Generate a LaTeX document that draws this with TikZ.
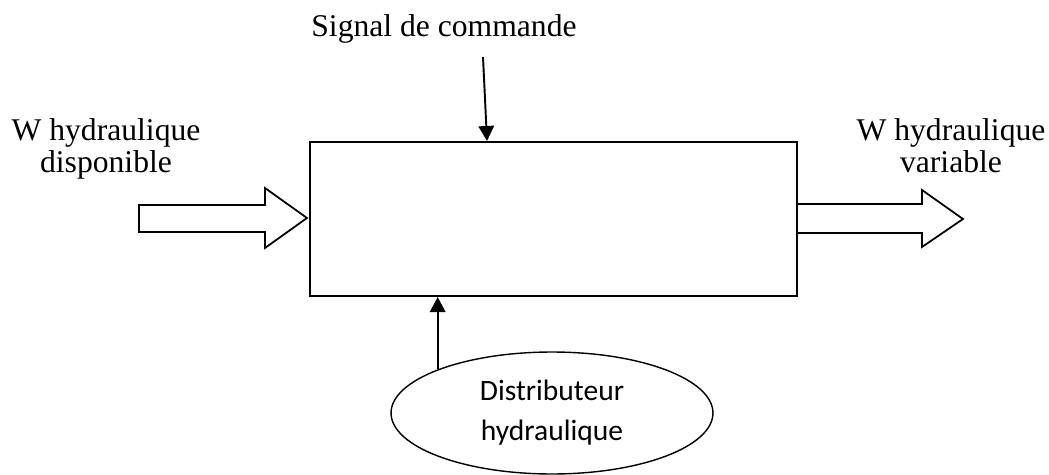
\documentclass[tikz,border=0pt]{standalone}
\usepackage{fontspec}
\setmainfont{Liberation Serif}
\newfontfamily\calib{Carlito}
\usetikzlibrary{arrows.meta,shapes.geometric}

\tikzset{
  lbl/.style={inner sep=0pt,align=center,font=\fontsize{18}{18.2}\selectfont},
  bloc/.style={draw,line width=1.2pt,minimum width=9.74cm,minimum height=3.08cm},
  source/.style={draw,ellipse,line width=0.8pt,minimum width=6.44cm,minimum height=2.44cm,
    inner sep=0pt,align=center,font=\calib\fontsize{16.8}{22.8}\selectfont},
  fleche/.style={line width=1.1pt,-{Triangle[length=3mm,width=3.1mm]}},
  grossefleche/.style={draw,line width=1pt,line join=miter,fill=white}
}

\begin{document}
\begin{tikzpicture}[x=0.02cm,y=-0.02cm]
  % Frame of the picture
  \useasboundingbox (0,0) rectangle (1049,474);

  % Main block
  \node[bloc] (box) at (553.5,219) {};

  % Labels
  \node[lbl,anchor=base] (sig) at (444,36) {Signal de commande};
  \node[lbl,anchor=north] (win) at (106,118) {W hydraulique\\disponible};
  \node[lbl,anchor=north] (wout) at (951,118) {W hydraulique\\variable};

  % Distributor
  \node[source] (dist) at (552,413) {Distributeur\\hydraulique};

  % Power in and out
  \coordinate (inL) at (139,205);
  \coordinate (outR) at (797,204);
  \draw[grossefleche] (inL) -- ++(126,0) -- ++(0,-17) -- ++(42,30)
    -- ++(-42,30) -- ++(0,-16) -- ++(-126,0) -- cycle;
  \draw[grossefleche] (outR) -- ++(125,0) -- ++(0,-14) -- ++(41,29)
    -- ++(-41,28) -- ++(0,-14) -- ++(-125,0) -- cycle;

  % Command signal
  \coordinate (sigtop) at (483,57);
  \draw[fleche] (sigtop) -- ([xshift=-1.33cm]box.north);

  % Distributor to block
  \draw[fleche] (dist.north west) -- (dist.north west |- box.south);
\end{tikzpicture}
\end{document}
